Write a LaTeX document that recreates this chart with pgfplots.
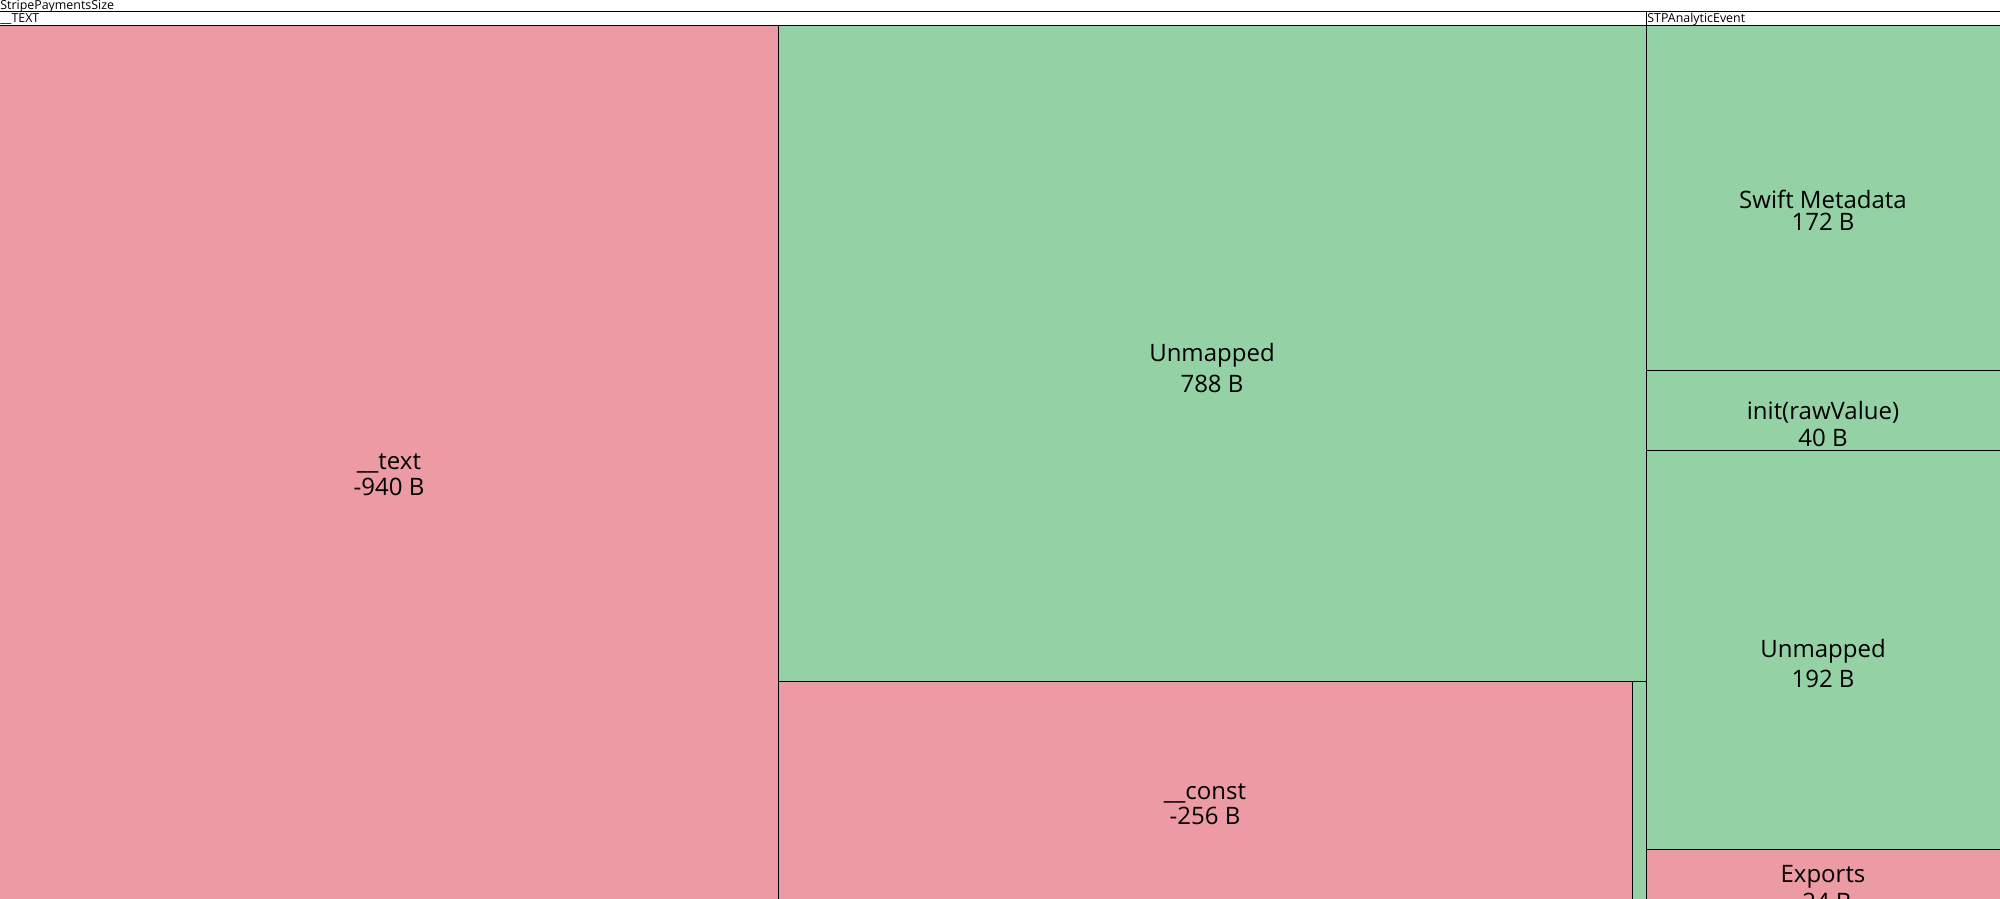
\documentclass[border=0pt]{standalone}
\usepackage{pgfplots}
\pgfplotsset{compat=1.18}
\usepackage{fontspec}
\setmainfont{Open Sans}
\definecolor{neg}{RGB}{236,154,163}
\definecolor{pos}{RGB}{148,210,165}
\begin{document}
\begin{tikzpicture}
\begin{axis}[width=1000pt,height=450pt,scale only axis,
  xmin=0,xmax=2000,ymin=0,ymax=900,y dir=reverse,hide axis,clip=true,
  every axis plot/.append style={line width=0.5pt}]
% header lines
\addplot[black] coordinates {(-5,13.5) (2010,13.5)};
\addplot[black] coordinates {(-5,27) (2010,27)};
\addplot[black] coordinates {(1646,13.5) (1646,27)};
% leaf rectangles
\addplot[draw=black,fill=neg] coordinates {(-5,27) (778,27) (778,960) (-5,960)} --cycle;
\addplot[draw=black,fill=pos] coordinates {(778,27) (1646,27) (1646,683) (778,683)} --cycle;
\addplot[draw=black,fill=neg] coordinates {(778,683) (1632,683) (1632,960) (778,960)} --cycle;
\addplot[draw=black,fill=pos] coordinates {(1632,683) (1646,683) (1646,960) (1632,960)} --cycle;
\addplot[draw=black,fill=pos] coordinates {(1646,27) (2010,27) (2010,372) (1646,372)} --cycle;
\addplot[draw=black,fill=pos] coordinates {(1646,372) (2010,372) (2010,452) (1646,452)} --cycle;
\addplot[draw=black,fill=pos] coordinates {(1646,452) (2010,452) (2010,851) (1646,851)} --cycle;
\addplot[draw=black,fill=neg] coordinates {(1646,851) (2010,851) (2010,960) (1646,960)} --cycle;
% header texts
\node[anchor=base west,inner sep=0pt,font=\fontsize{6.2}{7}\selectfont] at (axis cs:0,11) {StripePaymentsSize};
\node[anchor=base west,inner sep=0pt,font=\fontsize{6.2}{7}\selectfont] at (axis cs:0,24.5) {\_\_TEXT};
\node[anchor=base west,inner sep=0pt,font=\fontsize{6.2}{7}\selectfont] at (axis cs:1647,24.5) {STPAnalyticEvent};
% leaf labels
\tikzset{lbl/.style={anchor=base,inner sep=0pt,font=\fontsize{12}{14}\selectfont}}
\node[lbl] at (axis cs:389,471) {\_\_text};
\node[lbl] at (axis cs:389,497) {-940 B};
\node[lbl] at (axis cs:1212,363) {Unmapped};
\node[lbl] at (axis cs:1212,394) {788 B};
\node[lbl] at (axis cs:1205,801) {\_\_const};
\node[lbl] at (axis cs:1205,826) {-256 B};
\node[lbl] at (axis cs:1823,210) {Swift Metadata};
\node[lbl] at (axis cs:1823,232) {172 B};
\node[lbl] at (axis cs:1823,421) {init(rawValue)};
\node[lbl] at (axis cs:1823,448) {40 B};
\node[lbl] at (axis cs:1823,659) {Unmapped};
\node[lbl] at (axis cs:1823,689) {192 B};
\node[lbl] at (axis cs:1823,884) {Exports};
\node[lbl] at (axis cs:1823,912) {-24 B};
\end{axis}
\end{tikzpicture}
\end{document}
